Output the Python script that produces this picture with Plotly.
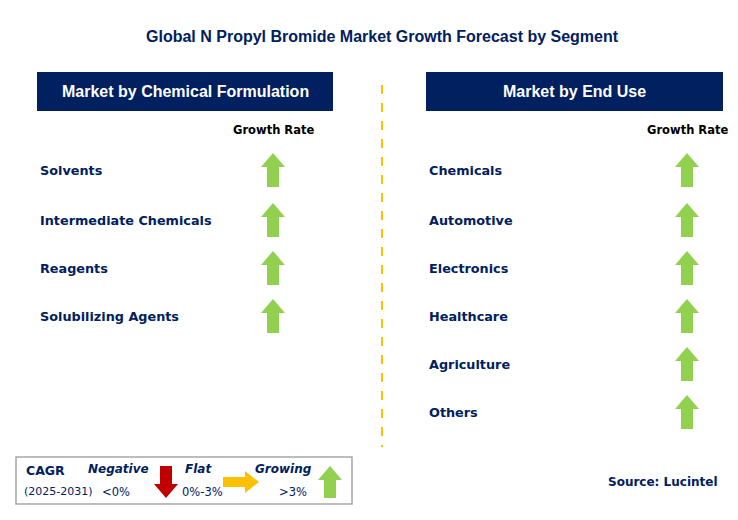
import plotly.graph_objects as go

title = "Global N Propyl Bromide Market Growth Forecast by Segment"
left_header = "Market by Chemical Formulation"
right_header = "Market by End Use"
left_items = ["Solvents", "Intermediate Chemicals", "Reagents", "Solubilizing Agents"]
right_items = ["Chemicals", "Automotive", "Electronics", "Healthcare", "Agriculture", "Others"]
left_growth = ["up", "up", "up", "up"]
right_growth = ["up", "up", "up", "up", "up", "up"]
row_y = [170, 220, 268, 316, 364, 412]

NAVY = "#002060"
GREEN = "#92d050"
fig = go.Figure()
shapes = []
ann = []

def up_arrow(cx, cy, color=GREEN, h=34, hw=12, sw=6, hh=14):
    t, b = cy - h / 2, cy + h / 2
    return dict(type="path", xref="x", yref="y", fillcolor=color, line=dict(width=0),
                path=f"M{cx},{t} L{cx+hw},{t+hh} L{cx+sw},{t+hh} L{cx+sw},{b} L{cx-sw},{b} L{cx-sw},{t+hh} L{cx-hw},{t+hh} Z")

def down_arrow(cx, cy, color, h=32, hw=12, sw=6, hh=14):
    t, b = cy - h / 2, cy + h / 2
    return dict(type="path", xref="x", yref="y", fillcolor=color, line=dict(width=0),
                path=f"M{cx},{b} L{cx+hw},{b-hh} L{cx+sw},{b-hh} L{cx+sw},{t} L{cx-sw},{t} L{cx-sw},{b-hh} L{cx-hw},{b-hh} Z")

def right_arrow(cx, cy, color, w=36, hh=22, sh=10, hl=14):
    l, r = cx - w / 2, cx + w / 2
    return dict(type="path", xref="x", yref="y", fillcolor=color, line=dict(width=0),
                path=f"M{r},{cy} L{r-hl},{cy-hh/2} L{r-hl},{cy-sh/2} L{l},{cy-sh/2} L{l},{cy+sh/2} L{r-hl},{cy+sh/2} L{r-hl},{cy+hh/2} Z")

def text(x, y, s, size=14, color=NAVY, anchor="left", bold=True, italic=False, family="DejaVu Sans"):
    s2 = f"<b>{s}</b>" if bold else s
    if italic:
        s2 = f"<i>{s2}</i>"
    ann.append(dict(x=x, y=y, xref="x", yref="y", text=s2, showarrow=False, xanchor=anchor,
                    yanchor="middle", font=dict(size=size, color=color, family=family)))

text(382, 36, title, 16, NAVY, "center", family="Liberation Sans")

for (x0, x1, hdr, items, growth, ax) in [(37, 333, left_header, left_items, left_growth, 273),
                                         (426, 723, right_header, right_items, right_growth, 687)]:
    shapes.append(dict(type="rect", xref="x", yref="y", x0=x0, x1=x1, y0=72, y1=111,
                       fillcolor=NAVY, line=dict(width=0)))
    text((x0 + x1) / 2, 91, hdr, 16, "white", "center", family="Liberation Sans")
    text(ax, 130, "Growth Rate", 11.5, "black", "center")
    for i, it in enumerate(items):
        text(x0 + 1, row_y[i], it, 12.8, NAVY)
        if growth[i] == "up":
            shapes.append(up_arrow(ax, row_y[i]))

shapes.append(dict(type="line", xref="x", yref="y", x0=382, x1=382, y0=85, y1=447,
                   line=dict(color="#ffc000", width=2, dash="dash")))

# legend
shapes.append(dict(type="rect", xref="x", yref="y", x0=16, x1=352, y0=457, y1=504,
                   line=dict(color="#a6a6a6", width=1.5), fillcolor="white"))
text(24, 470, "CAGR", 12.5, NAVY)
text(22, 491, "(2025-2031)", 11, NAVY, bold=False)
text(118, 469, "Negative", 12, NAVY, "center", italic=True)
text(116, 492, "&lt;0%", 11.5, NAVY, "center", bold=False)
shapes.append(down_arrow(166, 482, "#c00000"))
text(198, 469, "Flat", 12, NAVY, "center", italic=True)
text(202, 492, "0%-3%", 11.5, NAVY, "center", bold=False)
shapes.append(right_arrow(241, 482, "#ffc000"))
text(283, 469, "Growing", 12, NAVY, "center", italic=True)
text(293, 492, "&gt;3%", 11.5, NAVY, "center", bold=False)
shapes.append(up_arrow(330, 482, h=32))
text(663, 482, "Source: Lucintel", 12, NAVY, "center")

# page has an 8px body margin; map axis units 1:1 to window pixels
fig.update_layout(width=730, height=512, margin=dict(l=0, r=0, t=0, b=0),
                  plot_bgcolor="white", paper_bgcolor="white", shapes=shapes, annotations=ann,
                  xaxis=dict(range=[8, 738], visible=False, fixedrange=True),
                  yaxis=dict(range=[520, 8], visible=False, fixedrange=True),
                  showlegend=False)
fig.write_html("out.html")
